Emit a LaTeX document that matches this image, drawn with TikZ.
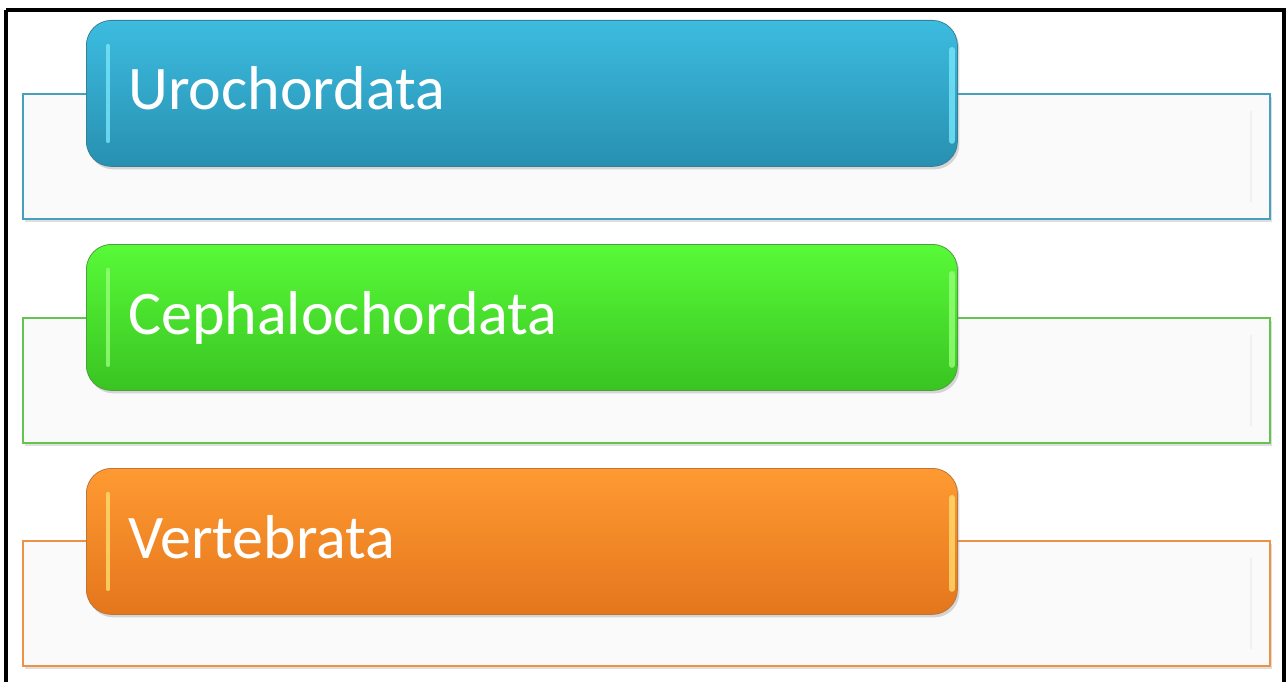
\documentclass[tikz,border=0pt]{standalone}
\usepackage{fontspec}
\setmainfont{Carlito}
\usetikzlibrary{shadows}

\definecolor{urotop}{RGB}{60,188,224}
\definecolor{urobot}{RGB}{40,144,176}
\definecolor{uroedge}{RGB}{70,160,190}
\definecolor{urolite}{RGB}{120,230,250}
\definecolor{cephtop}{RGB}{88,250,56}
\definecolor{cephbot}{RGB}{58,196,34}
\definecolor{cephedge}{RGB}{100,196,80}
\definecolor{cephlite}{RGB}{150,255,120}
\definecolor{verttop}{RGB}{255,154,50}
\definecolor{vertbot}{RGB}{228,118,28}
\definecolor{vertedge}{RGB}{236,146,70}
\definecolor{vertlite}{RGB}{255,220,110}
\definecolor{panelfill}{RGB}{250,250,250}

\tikzset{
  panelbox/.style={draw=#1, line width=2pt, fill=panelfill, rectangle,
    minimum width=1247pt, minimum height=125pt, anchor=north west,
    inner sep=0pt, drop shadow={opacity=0.25, shadow xshift=2pt, shadow yshift=-3pt}},
  tabbox/.style={draw=#1edge!80!black, line width=0.8pt, rounded corners=25pt,
    top color=#1top, bottom color=#1bot, rectangle,
    minimum width=871pt, minimum height=146pt, anchor=north west,
    inner sep=0pt, drop shadow={opacity=0.3, shadow xshift=2pt, shadow yshift=-3pt}},
  tablabel/.style={text=white, font=\fontsize{62}{70}\selectfont, anchor=base west,
    inner sep=0pt},
  glint/.style 2 args={line width=#2, line cap=round, draw=#1lite, opacity=0.8}
}

\begin{document}
\begin{tikzpicture}[x=1pt, y=-1pt]
  \useasboundingbox (0,0) rectangle (1286,682);
  % outer frame
  \draw[line width=3.5pt] (6,10) -- (1284,10) -- (1284,690) (6,690) -- (6,10);

  \foreach \i/\txt/\col in {0/Urochordata/uro, 1/Cephalochordata/ceph, 2/Vertebrata/vert} {
    % light panel behind
    \node[panelbox=\col edge] (panel\i) at (22, 93+223.5*\i) {};
    \draw[gray!12, line width=2pt] ([xshift=-20pt, yshift=-18pt]panel\i.north east)
      -- ([xshift=-20pt, yshift=18pt]panel\i.south east);
    % coloured tab on top
    \node[tabbox=\col] (tab\i) at (86, 20+224*\i) {};
    \draw[glint={\col}{4.5pt}] ([xshift=22pt, yshift=-26pt]tab\i.north west)
      -- ([xshift=22pt, yshift=26pt]tab\i.south west);
    \draw[glint={\col}{6pt}] ([xshift=-6pt, yshift=-30pt]tab\i.north east)
      -- ([xshift=-6pt, yshift=26pt]tab\i.south east);
    \node[tablabel] (label\i) at (128, 110+224*\i) {\txt};
  }
\end{tikzpicture}
\end{document}
